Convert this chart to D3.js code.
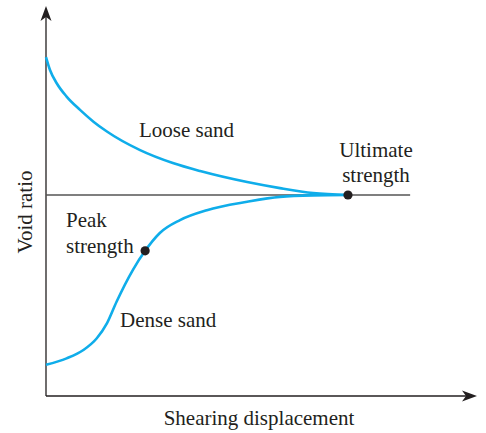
<!DOCTYPE html>
<html><head><meta charset="utf-8">
<script src="https://cdn.jsdelivr.net/npm/d3@7"></script>
<style>body{margin:0;background:#fff}svg{display:block}text{font-family:"Liberation Serif","Times New Roman",serif;fill:#231f20}</style>
</head><body>
<svg id="c" width="486" height="433"></svg>
<script>
// Data (displacement, void ratio) in arbitrary units
const looseX = [0, 0.095, 0.255, 0.49, 0.81, 1.13, 1.45, 2.24, 3.02, 3.67, 4.79, 5.57, 6.36, 7.19];
const looseY = [8.92, 8.58, 8.23, 7.88, 7.53, 7.22, 6.96, 6.47, 6.13, 5.92, 5.63, 5.47, 5.34, 5.29];
const denseX = [0, 0.49, 0.89, 1.21, 1.45, 1.68, 2.07, 2.36, 2.71, 3.19, 3.83, 4.79, 5.57, 6.36, 7.19];
const denseY = [0.82, 0.99, 1.21, 1.52, 1.91, 2.48, 3.32, 3.82, 4.29, 4.63, 4.89, 5.11, 5.24, 5.28, 5.29];
const criticalVoid = 5.29;
const criticalLineEnd = 8.67;
const peakPoint = [2.36, 3.82];
const ultimatePoint = [7.19, 5.29];
const curveLabels = ["Loose sand", "Dense sand"];
const xTitle = "Shearing displacement";
const yTitle = "Void ratio";

const svg = d3.select("#c");
const x = d3.scaleLinear().domain([0, 10]).range([46, 466]);
const y = d3.scaleLinear().domain([0, 10]).range([396, 16]);
const blue = "#0fadea", dark = "#231f20";

// axes
const xEnd = 477, yEnd = 6;
svg.append("line").attr("x1", x(0)).attr("y1", y(0)).attr("x2", xEnd - 6).attr("y2", y(0)).attr("stroke", dark).attr("stroke-width", 1.3);
svg.append("line").attr("x1", x(0)).attr("y1", y(0)).attr("x2", x(0)).attr("y2", yEnd + 6).attr("stroke", dark).attr("stroke-width", 1.3);
const ax = x(0), ay = y(0);
svg.append("path").attr("d", `M${xEnd},${ay} L${xEnd-15},${ay-5.5} L${xEnd-11},${ay} L${xEnd-15},${ay+5.5} Z`).attr("fill", dark);
svg.append("path").attr("d", `M${ax},${yEnd} L${ax-5.5},${yEnd+15} L${ax},${yEnd+11} L${ax+5.5},${yEnd+15} Z`).attr("fill", dark);

// critical void ratio line
svg.append("line").attr("x1", x(0)).attr("x2", x(criticalLineEnd)).attr("y1", y(criticalVoid)).attr("y2", y(criticalVoid))
  .attr("stroke", "#555").attr("stroke-width", 1.3);

const line = d3.line().x(d => x(d[0])).y(d => y(d[1])).curve(d3.curveMonotoneX);
svg.append("path").attr("d", line(looseX.map((v, i) => [v, looseY[i]]))).attr("fill", "none").attr("stroke", blue).attr("stroke-width", 2.6);
svg.append("path").attr("d", line(denseX.map((v, i) => [v, denseY[i]]))).attr("fill", "none").attr("stroke", blue).attr("stroke-width", 2.6);

svg.append("circle").attr("cx", x(peakPoint[0])).attr("cy", y(peakPoint[1])).attr("r", 4.6).attr("fill", dark);
svg.append("circle").attr("cx", x(ultimatePoint[0])).attr("cy", y(ultimatePoint[1])).attr("r", 4.6).attr("fill", dark);

const fs = 21;
svg.append("text").attr("x", 139).attr("y", 137).attr("font-size", fs).text(curveLabels[0]);
svg.append("text").attr("x", 120).attr("y", 327).attr("font-size", fs).text(curveLabels[1]);
svg.append("text").attr("x", 376).attr("y", 157).attr("font-size", fs).attr("text-anchor", "middle").text("Ultimate");
svg.append("text").attr("x", 376).attr("y", 182).attr("font-size", fs).attr("text-anchor", "middle").text("strength");
svg.append("text").attr("x", 66).attr("y", 227).attr("font-size", fs).text("Peak");
svg.append("text").attr("x", 66).attr("y", 253).attr("font-size", fs).text("strength");
svg.append("text").attr("x", 259).attr("y", 425).attr("font-size", fs).attr("text-anchor", "middle").text(xTitle);
svg.append("text").attr("transform", "translate(32,212) rotate(-90)").attr("font-size", fs).attr("text-anchor", "middle").text(yTitle);
</script>
</body></html>
